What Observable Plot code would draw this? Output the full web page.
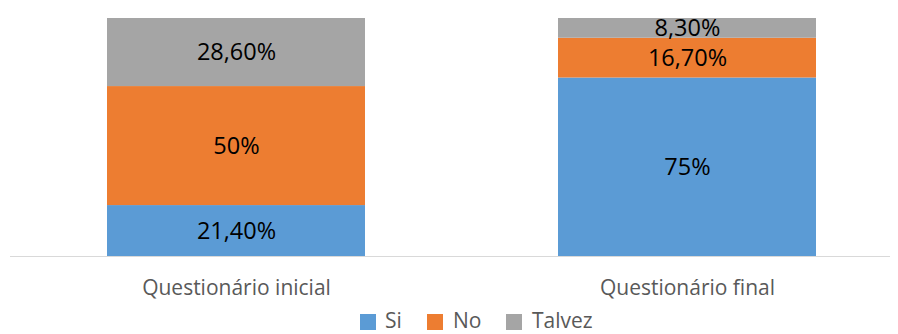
<!DOCTYPE html>
<html>
<head>
<meta charset="utf-8">
<script src="https://cdn.jsdelivr.net/npm/d3@7"></script>
<script src="https://cdn.jsdelivr.net/npm/@observablehq/plot@0.6"></script>
<style>
  body { margin: 0; background: #fff; font-family: "Open Sans", sans-serif; }
  #wrap { position: relative; width: 898px; height: 334px; overflow: hidden; }
  #legend { position: absolute; left: 0; top: 0; width: 898px; height: 334px; font-size: 21px; line-height: 21px; color: #595959; }
  .sw { position: absolute; top: 314px; width: 16px; height: 16px; }
  .lt { position: absolute; top: 310px; white-space: nowrap; }
</style>
</head>
<body>
<div id="wrap"><div id="chart"></div><div id="legend"></div></div>
<script>
const categories = ["Questionário inicial", "Questionário final"];
const seriesNames = ["Si", "No", "Talvez"];
const si = [21.4, 75];
const no = [50, 16.7];
const talvez = [28.6, 8.3];
const labels = [["21,40%", "75%"], ["50%", "16,70%"], ["28,60%", "8,30%"]];
const colors = ["#5B9BD5", "#ED7D31", "#A5A5A5"];

const values = [si, no, talvez];
const data = [];
seriesNames.forEach((s, k) => {
  categories.forEach((c, ci) => {
    data.push({cat: c, series: s, value: values[k][ci], label: labels[k][ci]});
  });
});

const chart = Plot.plot({
  width: 898,
  height: 306,
  marginTop: 18,
  marginBottom: 50,
  marginLeft: 10,
  marginRight: 8,
  style: {fontFamily: "'Open Sans', sans-serif", background: "#fff"},
  x: {domain: categories, range: [107, 816], paddingInner: 0.428, paddingOuter: 0, label: null},
  y: {domain: [0, 100], axis: null},
  color: {domain: seriesNames, range: colors},
  marks: [
    Plot.barY(data, {x: "cat", y: "value", fill: "series", order: seriesNames}),
    Plot.text(data, Plot.stackY({x: "cat", y: "value", z: "series", order: seriesNames, text: "label", fill: "#000", fontSize: 23.5})),
    Plot.ruleY([0], {stroke: "#d9d9d9", strokeWidth: 1}),
    Plot.axisX({tickSize: 0, tickPadding: 24, fontSize: 21, color: "#595959", label: null})
  ]
});
document.getElementById("chart").appendChild(chart);

const legend = document.getElementById("legend");
const swx = [360, 427, 506];
const txx = [385, 453, 532];
seriesNames.forEach((s, i) => {
  const sw = document.createElement("span");
  sw.className = "sw";
  sw.style.left = swx[i] + "px";
  sw.style.background = colors[i];
  legend.appendChild(sw);
  const t = document.createElement("span");
  t.className = "lt";
  t.style.left = txx[i] + "px";
  t.textContent = s;
  legend.appendChild(t);
});
</script>
</body>
</html>
